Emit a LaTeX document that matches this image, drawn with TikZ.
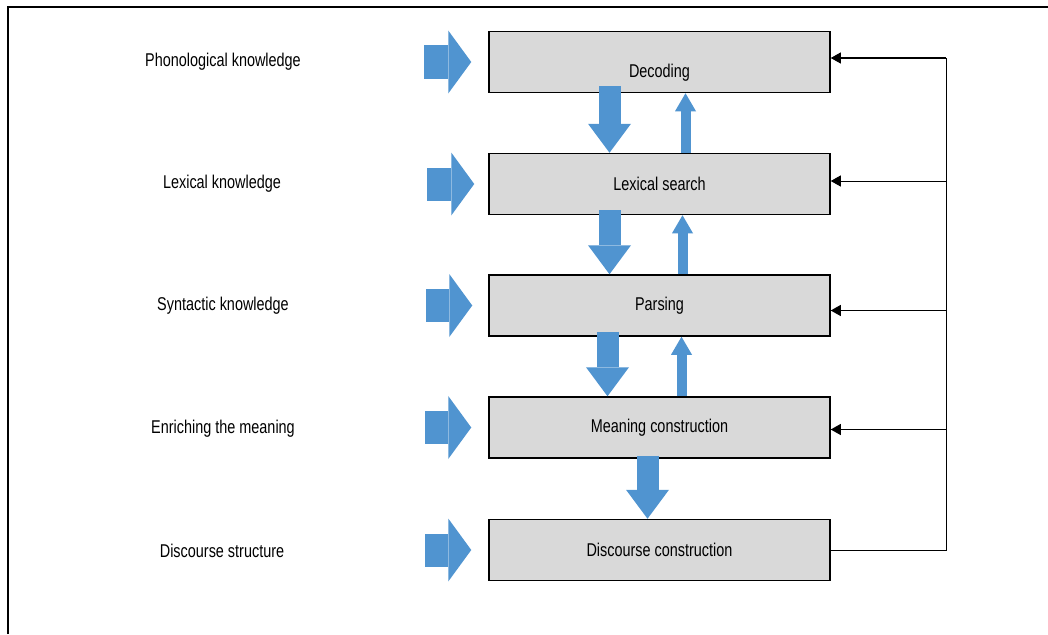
\documentclass[tikz,border=0pt]{standalone}
\usepackage{fontspec}
\setmainfont{Liberation Sans}[FakeStretch=0.78]
\usetikzlibrary{arrows.meta}
\definecolor{arrowblue}{RGB}{80,148,208}
\definecolor{boxgray}{RGB}{217,217,217}
\begin{document}
\begin{tikzpicture}[x=1pt,y=-1pt,
    stage/.style={draw=black,line width=1.5pt,fill=boxgray,minimum width=341pt,minimum height=61pt,inner sep=0pt,font=\fontsize{18.5}{22}\selectfont},
    source/.style={font=\fontsize{18.5}{22}\selectfont},
    push/.style={arrowblue,line width=33pt,-{Triangle[length=23pt,width=63pt,line width=0pt]}},
    down/.style={arrowblue,line width=22pt,-{Triangle[length=29pt,width=43pt,line width=0pt]}},
    up/.style={arrowblue,line width=10pt,-{Triangle[length=18pt,width=21pt,line width=0pt]}},
    back/.style={line width=1pt,-{Triangle[length=10pt,width=11pt]}}]
    \useasboundingbox (0,0) rectangle (1048,634);
    \draw[line width=2pt] (8,634) -- (8,7) -- (1048,7);
    \node[source] (phon) at (223,62) {Phonological knowledge};
    \node[source] (lexk) at (222,184) {Lexical knowledge};
    \node[source] (synt) at (223,306) {Syntactic knowledge};
    \node[source] (enri) at (223,429) {Enriching the meaning};
    \node[source] (disk) at (222,551) {Discourse structure};
    \node[stage] (dec) at (659.5,62) {\raisebox{-16pt}[0pt][0pt]{Decoding}};
    \node[stage] (lex) at (659.5,184) {Lexical search};
    \node[stage] (par) at (659.5,305.5) {Parsing};
    \node[stage] (mea) at (659.5,427.5) {Meaning construction};
    \node[stage] (dis) at (659.5,550) {Discourse construction};
    \coordinate (fb) at (946,0);
    \draw[push] ([xshift=-64pt]dec.west) -- ([xshift=-17pt]dec.west);
    \draw[push] ([xshift=-61pt]lex.west) -- ([xshift=-14pt]lex.west);
    \draw[push] ([xshift=-62pt]par.west) -- ([xshift=-16pt]par.west);
    \draw[push] ([xshift=-63pt]mea.west) -- ([xshift=-17pt]mea.west);
    \draw[push] ([xshift=-63pt]dis.west) -- ([xshift=-17pt]dis.west);
    \draw[down] ([xshift=-50pt,yshift=7pt]dec.south) -- ([xshift=-50pt]lex.north);
    \draw[down] ([xshift=-50pt,yshift=5pt]lex.south) -- ([xshift=-50pt]par.north);
    \draw[down] ([xshift=-52pt,yshift=5pt]par.south) -- ([xshift=-52pt]mea.north);
    \draw[down] ([xshift=-12pt,yshift=3pt]mea.south) -- ([xshift=-12pt]dis.north);
    \draw[up] ([xshift=26pt]lex.north) -- ([xshift=26pt]dec.south);
    \draw[up] ([xshift=23pt]par.north) -- ([xshift=23pt]lex.south);
    \draw[up] ([xshift=22pt]mea.north) -- ([xshift=22pt]par.south);
    \draw[line width=1pt] (dis.east) -- (dis.east -| fb) -- ([yshift=4pt]dec.east -| fb);
    \draw[back] ([yshift=4pt]dec.east -| fb) -- ([yshift=4pt]dec.east);
    \draw[back] ([yshift=3pt]lex.east -| fb) -- ([yshift=3pt]lex.east);
    \draw[back] ([yshift=-5pt]par.east -| fb) -- ([yshift=-5pt]par.east);
    \draw[back] ([yshift=-2pt]mea.east -| fb) -- ([yshift=-2pt]mea.east);
\end{tikzpicture}
\end{document}
